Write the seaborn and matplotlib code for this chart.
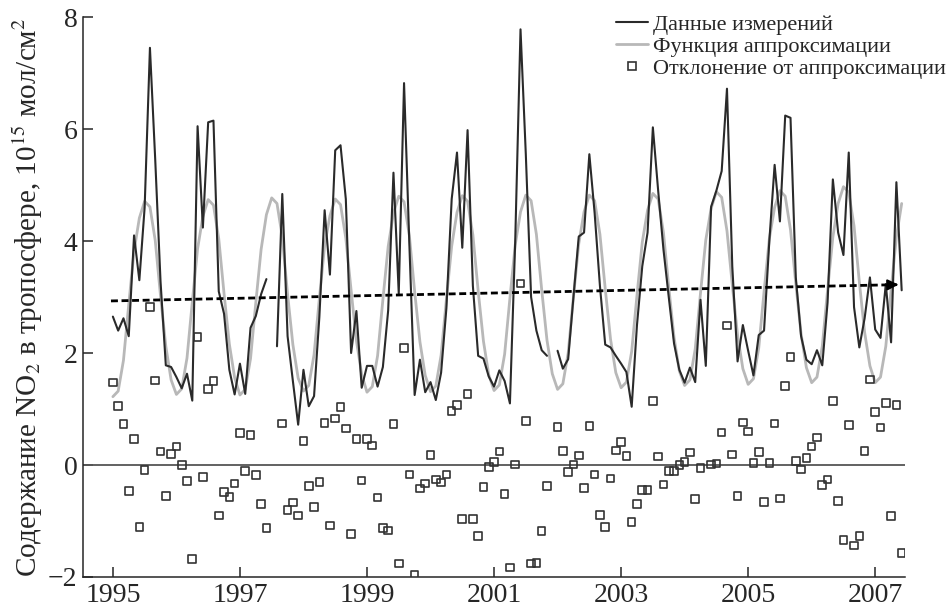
import numpy as np
import pandas as pd
import matplotlib
matplotlib.use('Agg')
import matplotlib.pyplot as plt
from matplotlib.lines import Line2D
import seaborn as sns

# monthly measured tropospheric NO2 (10^15 mol/cm2), Jan..Dec of each year
meas_1995 = [2.65, 2.40, 2.62, 2.30, 4.10, 3.30, 4.60, 7.45, 5.45, 3.28, 1.78, 1.75]
meas_1996 = [1.57, 1.37, 1.63, 1.15, 6.05, 4.24, 6.12, 6.15, 3.10, 2.70, 1.70, 1.26]
meas_1997 = [1.81, 1.27, 2.45, 2.66, 3.05, 3.32, np.nan, 2.12, 4.84, 2.30, 1.50, 0.72]
meas_1998 = [1.70, 1.05, 1.23, 2.64, 4.55, 3.40, 5.62, 5.71, 4.75, 2.00, 2.75, 1.38]
meas_1999 = [1.77, 1.77, 1.40, 1.75, 2.76, 5.22, 3.06, 6.82, 3.95, 1.25, 1.88, 1.30]
meas_2000 = [1.48, 1.16, 1.65, 2.80, 4.75, 5.58, 3.88, 5.98, 3.20, 1.95, 1.90, 1.58]
meas_2001 = [1.40, 1.69, 1.50, 1.10, 4.00, 7.78, 5.55, 3.00, 2.40, 2.05, 1.95, np.nan]
meas_2002 = [2.04, 1.72, 1.89, 3.00, 4.08, 4.15, 5.55, 4.50, 3.20, 2.15, 2.10, 1.95]
meas_2003 = [1.81, 1.66, 1.04, 2.50, 3.55, 4.15, 6.03, 4.90, 3.85, 3.00, 2.17, 1.70]
meas_2004 = [1.47, 1.74, 1.48, 2.95, 1.77, 4.61, 4.90, 5.25, 6.72, 3.55, 1.85, 2.50]
meas_2005 = [2.04, 1.60, 2.32, 2.40, 4.00, 5.36, 4.35, 6.24, 6.20, 3.35, 2.30, 1.88]
meas_2006 = [1.80, 2.05, 1.78, 2.90, 5.10, 4.15, 3.75, 5.58, 2.82, 2.10, 2.62, 3.35]
meas_2007 = [2.42, 2.27, 3.23, 2.19, 5.05, 3.12]

# approximation function
fit_1995 = [1.22, 1.32, 1.87, 2.87, 3.82, 4.41, 4.71, 4.61, 4.01, 3.02, 2.12, 1.52]
fit_1996 = [1.26, 1.36, 1.91, 2.91, 3.86, 4.44, 4.74, 4.64, 4.04, 3.06, 2.16, 1.56]
fit_1997 = [1.25, 1.35, 1.90, 2.90, 3.85, 4.47, 4.77, 4.67, 4.07, 3.05, 2.15, 1.55]
fit_1998 = [1.32, 1.42, 1.97, 2.97, 3.92, 4.45, 4.75, 4.65, 4.05, 3.12, 2.22, 1.62]
fit_1999 = [1.30, 1.40, 1.95, 2.95, 3.90, 4.50, 4.80, 4.70, 4.10, 3.10, 2.20, 1.60]
fit_2000 = [1.31, 1.41, 1.96, 2.96, 3.91, 4.51, 4.81, 4.71, 4.11, 3.11, 2.21, 1.61]
fit_2001 = [1.33, 1.43, 1.98, 2.98, 3.93, 4.52, 4.82, 4.72, 4.12, 3.13, 2.23, 1.63]
fit_2002 = [1.35, 1.45, 2.00, 3.00, 3.95, 4.52, 4.82, 4.72, 4.12, 3.15, 2.25, 1.65]
fit_2003 = [1.38, 1.48, 2.03, 3.03, 3.98, 4.55, 4.85, 4.75, 4.15, 3.18, 2.28, 1.68]
fit_2004 = [1.42, 1.52, 2.07, 3.07, 4.02, 4.58, 4.88, 4.78, 4.18, 3.22, 2.32, 1.72]
fit_2005 = [1.44, 1.54, 2.09, 3.09, 4.04, 4.60, 4.90, 4.80, 4.20, 3.24, 2.34, 1.74]
fit_2006 = [1.47, 1.57, 2.12, 3.12, 4.07, 4.67, 4.97, 4.87, 4.27, 3.27, 2.37, 1.77]
fit_2007 = [1.47, 1.57, 2.12, 3.12, 4.07, 4.67]

# deviation from approximation
res_1995 = [1.47, 1.05, 0.73, -0.46, 0.46, -1.11, -0.09, 2.82, 1.51, 0.24, -0.55, 0.20]
res_1996 = [0.33, 0.00, -0.29, -1.68, 2.29, -0.21, 1.36, 1.50, -0.90, -0.48, -0.57, -0.33]
res_1997 = [0.57, -0.11, 0.54, -0.18, -0.70, -1.13, np.nan, np.nan, 0.74, -0.80, -0.67, -0.90]
res_1998 = [0.43, -0.38, -0.75, -0.30, 0.75, -1.08, 0.83, 1.04, 0.65, -1.23, 0.46, -0.28]
res_1999 = [0.46, 0.35, -0.58, -1.13, -1.17, 0.73, -1.76, 2.09, -0.17, -1.96, -0.42, -0.33]
res_2000 = [0.18, -0.26, -0.31, -0.17, 0.96, 1.07, -0.96, 1.27, -0.96, -1.27, -0.39, -0.04]
res_2001 = [0.05, 0.24, -0.52, -1.83, 0.01, 3.24, 0.79, -1.76, -1.75, -1.18, -0.38, np.nan]
res_2002 = [0.68, 0.25, -0.12, 0.01, 0.17, -0.41, 0.70, -0.17, -0.89, -1.11, -0.24, 0.26]
res_2003 = [0.41, 0.16, -1.02, -0.70, -0.45, -0.45, 1.14, 0.15, -0.35, -0.11, -0.11, 0.00]
res_2004 = [0.05, 0.22, -0.61, -0.05, np.nan, 0.01, 0.03, 0.58, 2.49, 0.19, -0.55, 0.76]
res_2005 = [0.60, 0.04, 0.23, -0.66, 0.04, 0.74, -0.60, 1.41, 1.93, 0.07, -0.08, 0.12]
res_2006 = [0.33, 0.49, -0.36, -0.26, 1.14, -0.64, -1.34, 0.71, -1.44, -1.27, 0.25, 1.53]
res_2007 = [0.95, 0.67, 1.11, -0.91, 1.07, -1.57]

# linear trend (start / end)
trend_x = [1994.97, 2007.33]
trend_y = [2.93, 3.22]

x_ticks = [1995, 1997, 1999, 2001, 2003, 2005, 2007]
y_ticks = [-2, 0, 2, 4, 6, 8]

labels = ['Данные измерений', 'Функция аппроксимации', 'Отклонение от аппроксимации']

meas = sum([meas_1995, meas_1996, meas_1997, meas_1998, meas_1999, meas_2000, meas_2001,
            meas_2002, meas_2003, meas_2004, meas_2005, meas_2006, meas_2007], [])
fit = sum([fit_1995, fit_1996, fit_1997, fit_1998, fit_1999, fit_2000, fit_2001,
           fit_2002, fit_2003, fit_2004, fit_2005, fit_2006, fit_2007], [])
res = sum([res_1995, res_1996, res_1997, res_1998, res_1999, res_2000, res_2001,
           res_2002, res_2003, res_2004, res_2005, res_2006, res_2007], [])

df = pd.DataFrame({'t': 1995 + np.arange(len(meas)) / 12.0,
                   'meas': meas, 'fit': fit, 'res': res})
# split the measured series into segments at missing months
df['seg'] = df['meas'].isna().cumsum()
meas_df = df.dropna(subset=['meas'])

sns.set_style('ticks')
plt.rcParams['font.family'] = ['Liberation Serif', 'DejaVu Serif']
plt.rcParams['mathtext.fontset'] = 'stix'

fig = plt.figure(figsize=(9.51, 6.10), dpi=100)
ax = fig.add_axes([0.0873, 0.0541, 0.8644, 0.918])

ax.axhline(0, color='#555555', lw=1.3, zorder=1)

sns.lineplot(data=df, x='t', y='fit', color='#b8b8b8', lw=2.0, ax=ax, zorder=2)
sns.lineplot(data=meas_df, x='t', y='meas', units='seg', estimator=None,
             color='#2a2a2a', lw=1.5, ax=ax, zorder=3)
sns.scatterplot(data=df.dropna(subset=['res']), x='t', y='res', marker='s', s=30,
                facecolor='none', edgecolor='#333333', linewidth=1.2, ax=ax, zorder=4)

# trend with arrow head
sns.lineplot(x=trend_x, y=trend_y, color='black', lw=2.0, ax=ax, zorder=5,
             dashes=False, linestyle=(0, (2.5, 1.3)))
ax.annotate('', xy=(trend_x[1] + 0.08, trend_y[1] + 0.002), xytext=(trend_x[1] - 0.05, trend_y[1] - 0.001),
            arrowprops=dict(arrowstyle='-|>', color='black', lw=1.5, mutation_scale=16), zorder=6)

ax.set_xlim(1994.53, 2007.47)
ax.set_ylim(-2, 8)
ax.set_xticks(x_ticks)
ax.set_yticks(y_ticks)
ax.tick_params(direction='in', length=7, width=1.1, labelsize=20, pad=4)
ax.set_xlabel('')
ax.set_ylabel('Содержание NO$_2$ в тропосфере, 10$^{15}$ мол/см$^2$', fontsize=21, labelpad=2)
for side in ['top', 'right']:
    ax.spines[side].set_visible(False)
for side in ['left', 'bottom']:
    ax.spines[side].set_linewidth(1.1)

handles = [Line2D([], [], color='#2a2a2a', lw=1.5),
           Line2D([], [], color='#b8b8b8', lw=2.0),
           Line2D([], [], color='#333333', marker='s', ls='none', markersize=5.5,
                  markerfacecolor='none', markeredgewidth=1.2)]
fig.legend(handles, labels, loc='upper left', bbox_to_anchor=(0.648, 0.976), frameon=False,
           fontsize=16, handlelength=1.45, handletextpad=0.2, labelspacing=0.05,
           borderpad=0, borderaxespad=0)

fig.savefig('out.png', dpi=100)
